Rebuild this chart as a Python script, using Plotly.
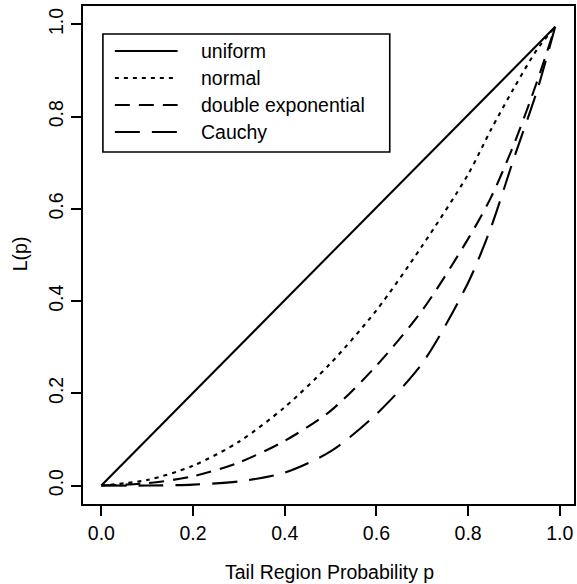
import plotly.graph_objects as go

# ---- data ----
p_uniform = [0.0, 0.99]
L_uniform = [0.0, 0.995]

p_grid = [0.0, 0.1, 0.2, 0.3, 0.4, 0.5, 0.6, 0.7, 0.8, 0.85, 0.9, 0.95, 0.99]
L_normal = [0.0, 0.012, 0.043, 0.095, 0.170, 0.265, 0.380, 0.520, 0.675, 0.772, 0.862, 0.945, 0.995]
L_double_exp = [0.0, 0.005, 0.020, 0.050, 0.097, 0.162, 0.260, 0.380, 0.535, 0.625, 0.740, 0.875, 0.995]
L_cauchy = [0.0, 0.0, 0.002, 0.009, 0.028, 0.074, 0.155, 0.265, 0.440, 0.560, 0.710, 0.855, 0.995]

series_names = ["uniform", "normal", "double exponential", "Cauchy"]
tick_vals = [0.0, 0.2, 0.4, 0.6, 0.8, 1.0]
tick_text = ["0.0", "0.2", "0.4", "0.6", "0.8", "1.0"]

# ---- styling ----
W, H = 577, 584
ML, MR, MT, MB = 83, 1, 6, 80
PW, PH = W - ML - MR, H - MT - MB
FONT = "Liberation Sans, Arial, Helvetica, sans-serif"
FS = 19.5
dashes = ["solid", "4px,5px", "15px,9px", "25px,12px"]
LW = 2.1


def px_x(px):
    return (px - ML) / PW


def px_y(py):
    return 1 - (py - MT) / PH


fig = go.Figure()
data = [(p_uniform, L_uniform), (p_grid, L_normal), (p_grid, L_double_exp), (p_grid, L_cauchy)]
for (xs, ys), name, d in zip(data, series_names, dashes):
    fig.add_trace(go.Scatter(
        x=xs, y=ys, mode="lines", name=name,
        line=dict(color="black", width=LW, dash=d, shape="spline", smoothing=0.8),
        showlegend=False,
    ))

axis_common = dict(
    tickvals=tick_vals, ticktext=tick_text, ticks="outside", ticklen=10,
    tickwidth=1.6, tickcolor="black", showline=True, mirror=True,
    linecolor="black", linewidth=1.6, showgrid=False, zeroline=False,
    tickfont=dict(family=FONT, size=FS, color="black"),
)
fig.update_xaxes(range=[-0.04, 1.031], ticklabelstandoff=1, **axis_common)
fig.update_yaxes(range=[-0.04, 1.04], tickangle=-90, **axis_common)

# ---- manual legend (R-style) ----
shapes = [dict(type="rect", xref="paper", yref="paper",
               x0=px_x(103), x1=px_x(391), y0=px_y(152), y1=px_y(34),
               line=dict(color="black", width=1.6), fillcolor="white", layer="above")]
annotations = []
rows = [51, 78, 105, 132]
for name, d, ry in zip(series_names, dashes, rows):
    shapes.append(dict(type="line", xref="paper", yref="paper",
                       x0=px_x(115), x1=px_x(178), y0=px_y(ry), y1=px_y(ry),
                       line=dict(color="black", width=LW, dash=d), layer="above"))
    annotations.append(dict(xref="paper", yref="paper", x=px_x(199), y=px_y(ry),
                            text=name, showarrow=False, xanchor="left", yanchor="middle",
                            font=dict(family=FONT, size=FS, color="black")))

# axis titles
annotations.append(dict(xref="paper", yref="paper", x=px_x(331), y=px_y(572),
                        text="Tail Region Probability p", showarrow=False,
                        xanchor="center", yanchor="middle",
                        font=dict(family=FONT, size=FS, color="black")))
annotations.append(dict(xref="paper", yref="paper", x=px_x(20), y=px_y(254),
                        text="L(p)", showarrow=False, textangle=-90,
                        xanchor="center", yanchor="middle",
                        font=dict(family=FONT, size=FS, color="black")))

fig.update_layout(
    width=W, height=H,
    margin=dict(l=ML, r=MR, t=MT, b=MB),
    paper_bgcolor="white", plot_bgcolor="white",
    shapes=shapes, annotations=annotations, showlegend=False,
)

fig.write_html("out.html")
